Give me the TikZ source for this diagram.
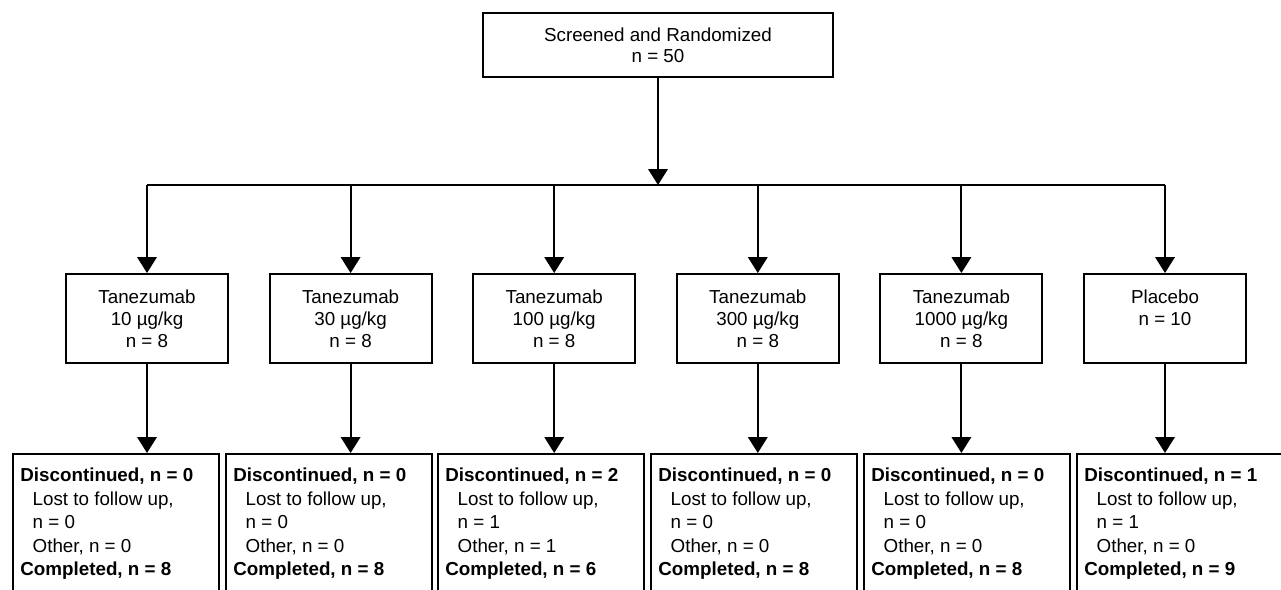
\documentclass[tikz,border=0pt]{standalone}
\usepackage{fontspec}
\setmainfont{Liberation Sans}
\usetikzlibrary{arrows.meta}

\tikzset{
  flow/.style={line width=1.1pt},
  arr/.style={flow,-{Triangle[length=9pt,width=11pt]}},
  topbox/.style={draw,line width=1.1pt,minimum width=7cm,minimum height=1.28cm,
    align=center,inner sep=0pt,font=\fontsize{10.7}{12}\selectfont},
  armbox/.style={draw,line width=1.1pt,minimum width=3.24cm,minimum height=1.78cm,
    align=center,inner sep=0pt,font=\fontsize{10.7}{12.5}\selectfont},
  outbox/.style={draw,line width=1.1pt,minimum width=4.12cm,minimum height=3.2cm,
    anchor=north west,inner sep=0pt},
  outtext/.style={anchor=north west,align=left,inner sep=0pt,
    font=\fontsize{10.7}{13.3}\selectfont},
}

\begin{document}
\begin{tikzpicture}[x=0.02cm,y=-0.02cm]
  \useasboundingbox (0,0) rectangle (1281,590);
  \def\gap{203.6}
  % randomisation
  \node[topbox] (rand) at (658,45) {Screened and Randomized\\n = 50};
  \coordinate (bus) at (658,185);
  % treatment arms
  \foreach \i/\dose in {1/10,2/30,3/100,4/300,5/1000}
    \node[armbox] (arm\i) at ({147+\gap*(\i-1)},318.5) {Tanezumab\\\dose\ µg/kg\\n = 8};
  \node[armbox] (arm6) at (1165,318.5) {Placebo\\n = 10\\\mbox{}};
  % outcomes
  \foreach \i/\xl/\d/\l/\o/\c in {1/12/0/0/0/8,2/225/0/0/0/8,3/437/2/1/1/6,
                                  4/650/0/0/0/8,5/863/0/0/0/8,6/1076/1/1/0/9}{
    \node[outbox] (out\i) at (\xl,453) {};
    \node[outtext] (txt\i) at (\xl+8,468) {\textbf{Discontinued, n = \d}\\
      \hspace*{7pt}Lost to follow up,\\
      \hspace*{7pt}n = \l\\
      \hspace*{7pt}Other, n = \o\\
      \textbf{Completed, n = \c}};
  }
  % connectors
  \draw[arr] (rand) -- (rand.south |- bus);
  \draw[flow] (arm1.north |- bus) -- (arm6.north |- bus);
  \foreach \i in {1,...,6}{
    \draw[arr] (arm\i.north |- bus) -- (arm\i.north);
    \draw[arr] (arm\i.south) -- (arm\i.south |- out\i.north);
  }
\end{tikzpicture}
\end{document}
